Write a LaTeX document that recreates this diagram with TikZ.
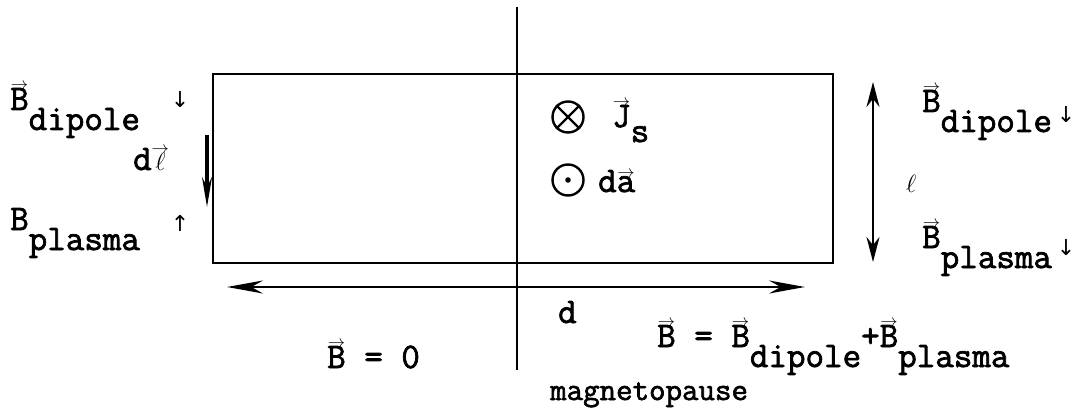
\documentclass[tikz,border=0pt]{standalone}
\usepackage{fontspec}
\newfontfamily\tw[FakeBold=2]{Latin Modern Mono}
\newfontfamily\djv{DejaVu Sans}
\usetikzlibrary{arrows.meta}
\newcommand\vv[1]{\leavevmode\vbox{\offinterlineskip\halign{\hfil##\hfil\cr{\fontsize{16}{16}\selectfont$\rightarrow$}\cr\noalign{\kern-1pt}#1\cr}}}
\newcommand\lowr[1]{\raisebox{-20pt}{#1}}
\begin{document}
\begin{tikzpicture}[x=1pt,y=-1pt,
  txt/.style={font=\fontsize{36}{40}\selectfont\tw, inner sep=0pt, anchor=base west},
  sym/.style={font=\fontsize{22}{26}\selectfont\djv, inner sep=0pt, anchor=center},
  edge/.style={line width=2.6pt},
  ring/.style={circle, draw, line width=2.4pt, minimum size=31pt, inner sep=0pt}]
\useasboundingbox (0,0) rectangle (1076,409);
% frame lines
\coordinate (vt) at (517,7);
\coordinate (vb) at (517,370);
\draw[edge] (vt) -- (vb);
\coordinate (r1) at (213,74);
\coordinate (r2) at (833,263);
\draw[edge] (r1) rectangle (r2);
% d arrow
\coordinate (dL) at (227,287);
\coordinate (dR) at (805,287);
\draw[edge, {Stealth[length=36pt,width=13pt]}-{Stealth[length=36pt,width=13pt]}] (dL) -- (dR);
% l arrow
\coordinate (lT) at (873,82);
\coordinate (lB) at (873,262);
\draw[line width=2.4pt, {Stealth[length=25pt,width=13pt]}-{Stealth[length=25pt,width=13pt]}] (lT) -- (lB);
% dl arrow
\coordinate (dlT) at (207,135);
\coordinate (dlB) at (207,207);
\draw[line width=3.5pt, -{Stealth[length=30pt,width=10pt]}] (dlT) -- (dlB);
% circles
\node[ring] (ot) at (568,117) {};
\draw[line width=2.4pt] (ot.north west) -- (ot.south east) (ot.north east) -- (ot.south west);
\node[ring] (od) at (568,180) {};
\fill (od.center) circle (2.8pt);
% left labels
\node[txt] (bdl) at (10,110) {\vv{B}\lowr{dipole}};
\node[sym] (adl) at (180,100) {↓};
\node[txt] (dl) at (133,170) {d\vv{$\ell$}};
\node[txt] (bpl) at (10,230) {B\lowr{plasma}};
\node[sym] (apl) at (180,223) {↑};
% center labels
\node[txt] (js) at (612,127) {\vv{J}\raisebox{-15pt}{s}};
\node[txt] (da) at (598,192) {d\vv{a}};
% right labels
\node[txt] (bdr) at (922,112) {\vv{B}\lowr{dipole}};
\node[sym] (adr) at (1066,115) {↓};
\node[txt, font=\fontsize{30}{34}\selectfont\tw] (ell) at (906,192) {$\ell$};
\node[txt] (bpr) at (922,248) {\vv{B}\lowr{plasma}};
\node[sym] (apr) at (1066,248) {↓};
% bottom labels
\node[txt] (dlab) at (558,323) {d};
\node[txt] (b0) at (327,368) {\vv{B} = 0};
\node[txt] (bsum) at (657,347) {\vv{B} = \vv{B}\lowr{dipole}+\vv{B}\lowr{plasma}};
\node[txt, font=\fontsize{32}{36}\selectfont\tw] (mp) at (550,400) {magnetopause};
\end{tikzpicture}
\end{document}
